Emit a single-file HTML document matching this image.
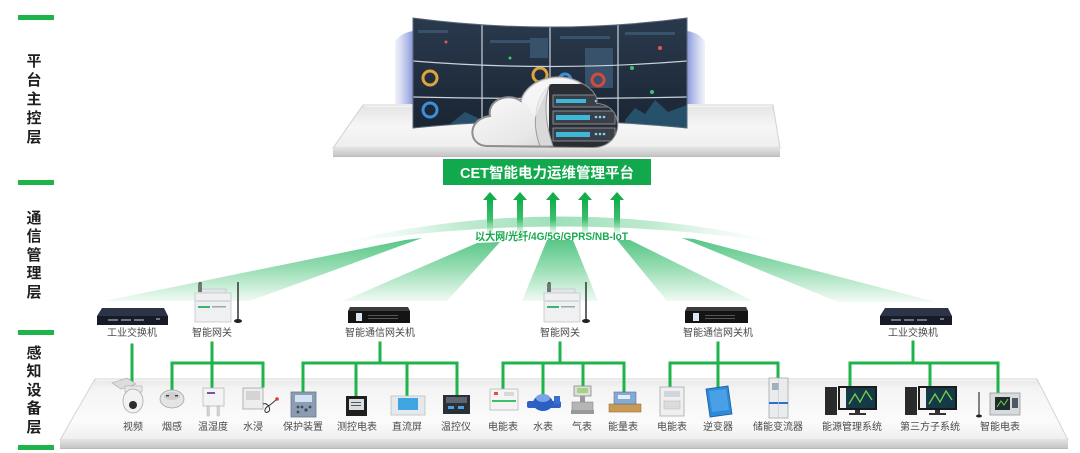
<!DOCTYPE html>
<html><head><meta charset="utf-8"><style>
html,body{margin:0;padding:0;background:#fff;}
svg{display:block;}
text{font-family:"Liberation Sans","Noto Sans CJK SC",sans-serif;}
</style></head><body>
<svg width="1080" height="453" viewBox="0 0 1080 453" xmlns="http://www.w3.org/2000/svg">
<defs>
  <linearGradient id="platTop" x1="0" y1="0" x2="0" y2="1">
    <stop offset="0" stop-color="#e4e4e4"/><stop offset="0.5" stop-color="#f6f6f6"/><stop offset="1" stop-color="#eeeeee"/>
  </linearGradient>
  <linearGradient id="platFront" x1="0" y1="0" x2="0" y2="1">
    <stop offset="0" stop-color="#e2e2e2"/><stop offset="1" stop-color="#c4c4c4"/>
  </linearGradient>
  <linearGradient id="botTop" x1="0" y1="0" x2="0" y2="1">
    <stop offset="0" stop-color="#e6e6e6"/><stop offset="0.15" stop-color="#f4f4f4"/><stop offset="0.7" stop-color="#fbfbfb"/><stop offset="1" stop-color="#efefef"/>
  </linearGradient>
  <linearGradient id="wall" x1="0" y1="0" x2="0" y2="1">
    <stop offset="0" stop-color="#2a3a4e"/><stop offset="1" stop-color="#1a2533"/>
  </linearGradient>
  <linearGradient id="sideL" x1="0" y1="0" x2="1" y2="0">
    <stop offset="0" stop-color="#dfe6f6" stop-opacity="0.6"/><stop offset="1" stop-color="#7384d4"/>
  </linearGradient>
  <linearGradient id="sideR" x1="1" y1="0" x2="0" y2="0">
    <stop offset="0" stop-color="#dfe6f6" stop-opacity="0.6"/><stop offset="1" stop-color="#7384d4"/>
  </linearGradient>
  <linearGradient id="cloudG" x1="0" y1="0" x2="1" y2="1">
    <stop offset="0" stop-color="#ffffff"/><stop offset="0.6" stop-color="#e8e8e8"/><stop offset="1" stop-color="#bdbdbd"/>
  </linearGradient>
  <linearGradient id="beam" gradientUnits="userSpaceOnUse" x1="0" y1="238" x2="0" y2="302">
    <stop offset="0" stop-color="#55c585"/><stop offset="0.45" stop-color="#95dcb1"/><stop offset="1" stop-color="#f2fbf5"/>
  </linearGradient>
  <linearGradient id="arcG" x1="0" y1="0" x2="1" y2="0">
    <stop offset="0" stop-color="#ffffff" stop-opacity="0"/>
    <stop offset="0.3" stop-color="#bfead0"/>
    <stop offset="0.5" stop-color="#9fe0b9"/>
    <stop offset="0.7" stop-color="#bfead0"/>
    <stop offset="1" stop-color="#ffffff" stop-opacity="0"/>
  </linearGradient>
  <linearGradient id="shaft" x1="0" y1="0" x2="0" y2="1">
    <stop offset="0" stop-color="#12ad4c"/><stop offset="0.6" stop-color="#3cc06f"/><stop offset="1" stop-color="#a6e3be" stop-opacity="0.3"/>
  </linearGradient>
  <clipPath id="cloudClip">
    <path d="M487,146 C468,146 466,119 490,116 C487,100 508,92 521,101 C527,79 560,70 582,84 C594,90 598,99 596,104 C616,104 623,126 612,139 C607,145 600,147 592,147 Z"/>
  </clipPath>
  <clipPath id="wallClip">
    <path d="M413,18 Q550,36 687,18 L687,128 Q550,114 413,128 Z"/>
  </clipPath>
</defs>

<!-- left layer labels -->
<g fill="#1fb34b">
  <rect x="18" y="15" width="36" height="5"/>
  <rect x="18" y="180" width="36" height="5"/>
  <rect x="18" y="330" width="36" height="5"/>
  <rect x="18" y="445" width="36" height="5"/>
</g>
<g font-size="15" font-weight="bold" fill="#1e1e1e" text-anchor="middle">
  <text x="34" y="66">平</text><text x="34" y="85">台</text><text x="34" y="104">主</text><text x="34" y="123">控</text><text x="34" y="142">层</text>
  <text x="34" y="223">通</text><text x="34" y="241">信</text><text x="34" y="260">管</text><text x="34" y="278">理</text><text x="34" y="297">层</text>
  <text x="34" y="358">感</text><text x="34" y="376">知</text><text x="34" y="395">设</text><text x="34" y="413">备</text><text x="34" y="432">层</text>
</g>

<!-- top platform -->
<polygon points="363,105 773,105 780,148 333,148" fill="url(#platTop)" stroke="#d2d2d2" stroke-width="1"/>
<line x1="364" y1="106" x2="772" y2="106" stroke="#ffffff" stroke-width="1"/>
<rect x="333" y="148" width="447" height="8" fill="url(#platFront)"/>
<line x1="333" y1="156.5" x2="780" y2="156.5" stroke="#bdbdbd" stroke-width="1"/>

<!-- side translucent panels -->
<path d="M395,42 Q400,33 413,31 L413,104 L395,104 Z" fill="url(#sideL)" opacity="0.85"/>
<path d="M705,42 Q700,33 687,31 L687,104 L705,104 Z" fill="url(#sideR)" opacity="0.85"/>

<!-- video wall -->
<g clip-path="url(#wallClip)">
  <rect x="413" y="15" width="274" height="115" fill="url(#wall)"/>
  <g fill="#3b5670" opacity="0.9">
    <rect x="418" y="30" width="30" height="3"/><rect x="490" y="40" width="50" height="3"/>
    <rect x="560" y="36" width="50" height="3"/><rect x="625" y="32" width="50" height="3"/>
    <rect x="530" y="38" width="18" height="20"/><rect x="585" y="48" width="28" height="40"/>
  </g>
  <g fill="none" stroke-width="3">
    <circle cx="430" cy="78" r="7" stroke="#e0a53a"/>
    <circle cx="430" cy="110" r="7" stroke="#3c8fd8"/>
    <circle cx="540" cy="75" r="7" stroke="#e0a53a"/>
    <circle cx="565" cy="80" r="6" stroke="#3c8fd8"/>
    <circle cx="598" cy="80" r="6" stroke="#d8493c"/>
  </g>
  <g fill="#3fc56f"><circle cx="652" cy="92" r="2"/><circle cx="632" cy="68" r="2"/><circle cx="510" cy="58" r="1.5"/></g>
  <g fill="#e05a4a"><circle cx="660" cy="48" r="2"/><circle cx="446" cy="42" r="1.5"/></g>
  <path d="M625,120 L635,108 L645,114 L655,100 L668,112 L687,105 L687,128 L625,128 Z" fill="#2f6d8c" opacity="0.6"/>
  <path d="M450,124 L465,112 L478,118 L482,128 Z" fill="#2f6d8c" opacity="0.6"/>
  <g stroke="#c9d1da" stroke-width="1.2" fill="none">
    <path d="M413,61 Q550,72 687,61"/>
    <path d="M413,97 Q550,100 687,97"/>
    <line x1="482" y1="15" x2="482" y2="130"/>
    <line x1="550" y1="15" x2="550" y2="130"/>
    <line x1="618" y1="15" x2="618" y2="130"/>
  </g>
</g>
<path d="M413,18 Q550,36 687,18 L687,128 Q550,114 413,128 Z" fill="none" stroke="#5a6878" stroke-width="1"/>

<!-- cloud -->
<path d="M487,146 C468,146 466,119 490,116 C487,100 508,92 521,101 C527,79 560,70 582,84 C594,90 598,99 596,104 C616,104 623,126 612,139 C607,145 600,147 592,147 Z" fill="url(#cloudG)" stroke="#8e8e8e" stroke-width="2"/>
<g clip-path="url(#cloudClip)">
  <rect x="549" y="84" width="72" height="66" fill="#2a2d33"/>
  <g>
    <rect x="553" y="95" width="62" height="12" fill="#3b4048" stroke="#9aa0a8" stroke-width="0.8"/>
    <rect x="556" y="99" width="30" height="4" fill="#3fb7d8"/>
    <rect x="553" y="111" width="62" height="13" fill="#3b4048" stroke="#9aa0a8" stroke-width="0.8"/>
    <rect x="556" y="115" width="34" height="5" fill="#3fb7d8"/>
    <rect x="553" y="128" width="62" height="13" fill="#3b4048" stroke="#9aa0a8" stroke-width="0.8"/>
    <rect x="556" y="132" width="34" height="5" fill="#3fb7d8"/>
    <g fill="#7fd3ee"><circle cx="596" cy="101" r="1.3"/><circle cx="600" cy="101" r="1.3"/><circle cx="604" cy="101" r="1.3"/>
      <circle cx="596" cy="117" r="1.3"/><circle cx="600" cy="117" r="1.3"/><circle cx="604" cy="117" r="1.3"/>
      <circle cx="596" cy="134" r="1.3"/><circle cx="600" cy="134" r="1.3"/><circle cx="604" cy="134" r="1.3"/></g>
  </g>
</g>
<path d="M549,86 C545,100 544,120 553,146 L540,146 C532,125 534,100 549,86 Z" fill="#d9d9d9" stroke="#9b9b9b" stroke-width="1"/>
<path d="M521,101 C527,79 560,70 582,84 C565,80 548,84 549,86 C545,95 540,105 535,118 C532,110 528,104 521,101 Z" fill="#f7f7f7" opacity="0.7"/>

<!-- title -->
<rect x="443" y="159" width="208" height="26" fill="#12a84c"/>
<text x="547" y="178" font-size="14.5" font-weight="bold" fill="#ffffff" text-anchor="middle">CET智能电力运维管理平台</text>

<!-- arc band -->
<path d="M318,248 Q555,186 797,246 Q555,206 318,248 Z" fill="url(#arcG)"/>

<!-- beams -->
<g fill="url(#beam)">
  <polygon points="405,240 422,238 250,301 104,301"/>
  <polygon points="477,243 500,242 447,301 343,301"/>
  <polygon points="547,240 573,240 598,301 522,301"/>
  <polygon points="617,240 630,240 753,301 667,301"/>
  <polygon points="682,238 694,239 936,302 838,302"/>
</g>

<!-- arrows -->
<g>
  <g fill="#12ad4c">
    <polygon points="483,200 490,192 497,200"/>
    <polygon points="513,200 520,192 527,200"/>
    <polygon points="546,200 553,192 560,200"/>
    <polygon points="578,200 585,192 592,200"/>
    <polygon points="610,200 617,192 624,200"/>
  </g>
  <g fill="url(#shaft)">
    <rect x="487" y="199" width="6" height="34"/>
    <rect x="517" y="199" width="6" height="34"/>
    <rect x="550" y="199" width="6" height="34"/>
    <rect x="582" y="199" width="6" height="34"/>
    <rect x="614" y="199" width="6" height="34"/>
  </g>
</g>
<text x="475" y="240" font-size="11" font-weight="bold" fill="#18a94f" textLength="153" lengthAdjust="spacingAndGlyphs">以大网/光纤/4G/5G/GPRS/NB-IoT</text>

<!-- bottom platform -->
<polygon points="95,379 1037,379 1068,440 60,440" fill="url(#botTop)" stroke="#d4d4d4" stroke-width="1"/>
<line x1="96" y1="380" x2="1036" y2="380" stroke="#ffffff" stroke-width="1"/>
<rect x="60" y="440" width="1008" height="8" fill="url(#platFront)"/>
<line x1="60" y1="448.5" x2="1068" y2="448.5" stroke="#b8b8b8" stroke-width="1"/>

<!-- tree lines -->
<g stroke="#1fb34b" stroke-width="3" fill="none" stroke-linecap="square">
  <line x1="132" y1="345" x2="132" y2="384"/>
  <line x1="212" y1="343" x2="212" y2="389"/>
  <polyline points="172,392 172,363 263,363 263,386"/>
  <line x1="380" y1="343" x2="380" y2="363"/>
  <polyline points="303,392 303,363 457,363 457,394"/>
  <line x1="356" y1="363" x2="356" y2="397"/>
  <line x1="407" y1="363" x2="407" y2="396"/>
  <line x1="560" y1="343" x2="560" y2="363"/>
  <polyline points="503,390 503,363 624,363 624,392"/>
  <line x1="543" y1="363" x2="543" y2="394"/>
  <line x1="583" y1="363" x2="583" y2="387"/>
  <line x1="718" y1="343" x2="718" y2="388"/>
  <polyline points="670,388 670,363 778,363 778,380"/>
  <line x1="913" y1="342" x2="913" y2="363"/>
  <polyline points="850,386 850,363 998,363 998,392"/>
  <line x1="930" y1="363" x2="930" y2="386"/>
</g>

<!-- top-row devices -->
<g>
  <path d="M102,308 H164 L168,316 H97 Z" fill="#2c3548"/>
  <rect x="97" y="316" width="71" height="9" fill="#161b26"/>
  <g fill="#6d7688"><rect x="108" y="319" width="10" height="2"/><rect x="121" y="319" width="10" height="2"/><rect x="134" y="319" width="10" height="2"/><rect x="156" y="318" width="4" height="2"/></g>
</g>
<g>
  <path d="M885,308 H948 L952,316 H880 Z" fill="#2c3548"/>
  <rect x="880" y="316" width="72" height="9" fill="#161b26"/>
  <g fill="#6d7688"><rect x="891" y="319" width="10" height="2"/><rect x="904" y="319" width="10" height="2"/><rect x="917" y="319" width="10" height="2"/><rect x="940" y="318" width="4" height="2"/></g>
</g>
<g>
  <rect x="200" y="289" width="26" height="5" fill="#e3e6e9" stroke="#c2c6ca" stroke-width="0.8"/>
  <rect x="195" y="293" width="36" height="29" fill="#eef0f2" stroke="#c2c6ca" stroke-width="0.8"/>
  <rect x="195" y="300" width="36" height="2" fill="#d6dadd"/>
  <rect x="198" y="306" width="12" height="2" fill="#3db36b"/>
  <rect x="212" y="306" width="14" height="1.5" fill="#9aa"/>
  <path d="M199,292 V285 Q199,282 201,283 V292" fill="none" stroke="#555" stroke-width="1.5"/>
  <line x1="238" y1="282" x2="238" y2="320" stroke="#333" stroke-width="1.5"/>
  <ellipse cx="238" cy="321" rx="4" ry="2" fill="#222"/>
</g>
<g>
  <rect x="549" y="289" width="26" height="5" fill="#e3e6e9" stroke="#c2c6ca" stroke-width="0.8"/>
  <rect x="544" y="293" width="36" height="29" fill="#eef0f2" stroke="#c2c6ca" stroke-width="0.8"/>
  <rect x="544" y="300" width="36" height="2" fill="#d6dadd"/>
  <rect x="547" y="306" width="12" height="2" fill="#3db36b"/>
  <rect x="561" y="306" width="14" height="1.5" fill="#9aa"/>
  <path d="M548,292 V285 Q548,282 550,283 V292" fill="none" stroke="#555" stroke-width="1.5"/>
  <line x1="586" y1="282" x2="586" y2="320" stroke="#333" stroke-width="1.5"/>
  <ellipse cx="586" cy="321" rx="4" ry="2" fill="#222"/>
</g>
<g>
  <path d="M350,307 H408 L410,311 H348 Z" fill="#3c3c3c"/>
  <rect x="348" y="311" width="62" height="12" fill="#141414"/>
  <rect x="356" y="313" width="6" height="8" fill="#dde6ef"/>
  <g fill="#555"><rect x="368" y="315" width="30" height="1"/><rect x="368" y="318" width="30" height="1"/></g>
</g>
<g>
  <path d="M687,307 H746 L748,311 H685 Z" fill="#3c3c3c"/>
  <rect x="685" y="311" width="63" height="12" fill="#141414"/>
  <rect x="693" y="313" width="6" height="8" fill="#dde6ef"/>
  <g fill="#555"><rect x="705" y="315" width="30" height="1"/><rect x="705" y="318" width="30" height="1"/></g>
</g>

<g font-size="10" fill="#4a4a4a" text-anchor="middle">
  <text x="132" y="336">工业交换机</text>
  <text x="212" y="336">智能网关</text>
  <text x="380" y="336">智能通信网关机</text>
  <text x="560" y="336">智能网关</text>
  <text x="718" y="336">智能通信网关机</text>
  <text x="913" y="336">工业交换机</text>
</g>

<!-- bottom devices -->
<g>
  <polygon points="112,383 127,378 136,384 121,389" fill="#dcdcdc" stroke="#aaa" stroke-width="0.6"/>
  <rect x="125" y="386" width="17" height="6" fill="#e8e8e8" stroke="#aaa" stroke-width="0.6"/>
  <ellipse cx="133" cy="401" rx="10" ry="12" fill="#f2f2f2" stroke="#a9a9a9" stroke-width="0.8"/>
  <circle cx="133" cy="405" r="4" fill="#2d2d2d"/>
</g>
<g>
  <ellipse cx="172" cy="399" rx="12" ry="9" fill="#e4e4e4" stroke="#a5a5a5" stroke-width="0.8"/>
  <ellipse cx="172" cy="396" rx="8" ry="4" fill="#cfcfcf"/>
  <g fill="#444"><rect x="166" y="395" width="3" height="1.5"/><rect x="175" y="395" width="3" height="1.5"/></g>
</g>
<g>
  <rect x="203" y="388" width="21" height="18" fill="#f3f3f3" stroke="#b9b9b9" stroke-width="0.8"/>
  <rect x="207" y="392" width="8" height="2" fill="#6e5aa0"/>
  <rect x="207" y="406" width="2.5" height="10" fill="#d5d5d5" stroke="#aaa" stroke-width="0.4"/>
  <rect x="217" y="406" width="2.5" height="10" fill="#d5d5d5" stroke="#aaa" stroke-width="0.4"/>
</g>
<g>
  <rect x="243" y="388" width="20" height="21" fill="#ededed" stroke="#a5a5a5" stroke-width="0.8"/>
  <rect x="246" y="391" width="14" height="9" fill="#d4d4d4"/>
  <path d="M263,404 C268,402 272,410 268,412 C264,414 263,408 270,405 L276,400" fill="none" stroke="#333" stroke-width="1"/>
  <circle cx="277" cy="399" r="1.8" fill="#e03a2a"/>
</g>
<g>
  <rect x="291" y="392" width="25" height="25" fill="#8c9db2" stroke="#6a7a8e" stroke-width="0.8"/>
  <rect x="295" y="395" width="17" height="7" fill="#cfe3f3"/>
  <g fill="#3e4c5c"><circle cx="298" cy="407" r="1.4"/><circle cx="302" cy="407" r="1.4"/><circle cx="306" cy="410" r="1.6"/><circle cx="310" cy="407" r="1.4"/><circle cx="298" cy="412" r="1.4"/></g>
</g>
<g>
  <rect x="346" y="396" width="21" height="20" fill="#1f1f1f"/>
  <rect x="349" y="399" width="15" height="11" fill="#d9dee3"/>
  <rect x="351" y="402" width="10" height="1" fill="#555"/><rect x="351" y="405" width="10" height="1" fill="#555"/>
</g>
<g>
  <rect x="391" y="396" width="34" height="19" fill="#e6e9ec" stroke="#b9bec4" stroke-width="0.8"/>
  <rect x="398" y="398" width="20" height="12" fill="#3ea4e2"/>
</g>
<g>
  <rect x="443" y="395" width="27" height="19" fill="#2b2f36"/>
  <rect x="446" y="397" width="21" height="6" fill="#5c6672"/>
  <rect x="448" y="406" width="6" height="3" fill="#4aa3e0"/><rect x="458" y="406" width="6" height="3" fill="#4aa3e0"/>
</g>
<g>
  <rect x="490" y="389" width="28" height="21" fill="#f4f4f4" stroke="#b9b9b9" stroke-width="0.8"/>
  <rect x="492" y="400" width="24" height="2" fill="#3fbf6b"/>
  <rect x="494" y="392" width="4" height="3" fill="#e05040"/>
  <rect x="504" y="392" width="10" height="4" fill="#d8d8d8"/>
</g>
<g>
  <rect x="527" y="401" width="34" height="7" rx="2" fill="#2f62c4"/>
  <ellipse cx="543" cy="403" rx="10" ry="8" fill="#2c5fc2"/>
  <ellipse cx="543" cy="398" rx="7" ry="4" fill="#7aa3e8"/>
  <rect x="554" y="396" width="6" height="8" fill="#3a6fd0"/>
</g>
<g>
  <rect x="574" y="386" width="17" height="10" fill="#dedede" stroke="#888" stroke-width="0.8"/>
  <rect x="577" y="388" width="11" height="5" fill="#a3d482"/>
  <rect x="580" y="396" width="5" height="6" fill="#999"/>
  <rect x="572" y="402" width="21" height="9" fill="#b5b5b5" stroke="#888" stroke-width="0.6"/>
  <rect x="571" y="410" width="23" height="4" fill="#999"/>
</g>
<g>
  <rect x="609" y="404" width="32" height="8" fill="#c89a55" stroke="#9a723a" stroke-width="0.6"/>
  <rect x="614" y="392" width="22" height="12" fill="#86aad8" stroke="#5a7090" stroke-width="0.6"/>
  <rect x="618" y="395" width="12" height="4" fill="#e6eef8"/>
</g>
<g>
  <rect x="660" y="387" width="24" height="29" fill="#efefef" stroke="#a9a9a9" stroke-width="0.8"/>
  <rect x="664" y="391" width="16" height="6" fill="#cfd5da"/>
  <rect x="664" y="401" width="16" height="8" fill="#dcdcdc" stroke="#aaa" stroke-width="0.4"/>
</g>
<g>
  <polygon points="706,389 728,386 732,414 710,417" fill="#2f89d9" stroke="#1b5f9c" stroke-width="0.8"/>
  <polygon points="709,391 726,389 729,410 712,412" fill="#4aa0e6"/>
</g>
<g>
  <rect x="769" y="378" width="19" height="40" fill="#e9ebed" stroke="#a4a9ae" stroke-width="0.8"/>
  <rect x="772" y="383" width="7" height="7" fill="#9fb0bf"/>
  <rect x="769" y="402" width="19" height="2" fill="#2a72c9"/>
  <line x1="778.5" y1="378" x2="778.5" y2="418" stroke="#c5c9cd" stroke-width="0.6"/>
</g>
<g>
  <rect x="825" y="387" width="12" height="28" fill="#2a2a2a"/>
  <rect x="838" y="386" width="39" height="24" fill="#1a1a1a"/>
  <rect x="840" y="388" width="35" height="20" fill="#143a48"/>
  <rect x="840" y="388" width="6" height="20" fill="#eeeeee"/>
  <path d="M849,404 L855,394 L860,402 L866,391 L872,400" fill="none" stroke="#7ad04a" stroke-width="1.3"/>
  <rect x="855" y="410" width="5" height="4" fill="#333"/>
  <rect x="849" y="413" width="17" height="2" fill="#333"/>
</g>
<g>
  <rect x="905" y="387" width="12" height="28" fill="#2a2a2a"/>
  <rect x="918" y="386" width="39" height="24" fill="#1a1a1a"/>
  <rect x="920" y="388" width="35" height="20" fill="#143a48"/>
  <rect x="920" y="388" width="6" height="20" fill="#eeeeee"/>
  <path d="M929,404 L935,394 L940,402 L946,391 L952,400" fill="none" stroke="#7ad04a" stroke-width="1.3"/>
  <rect x="935" y="410" width="5" height="4" fill="#333"/>
  <rect x="929" y="413" width="17" height="2" fill="#333"/>
</g>
<g>
  <line x1="979" y1="392" x2="979" y2="415" stroke="#333" stroke-width="1.2"/>
  <ellipse cx="979" cy="416" rx="3" ry="1.5" fill="#222"/>
  <rect x="990" y="393" width="30" height="22" fill="#d7dbde" stroke="#999" stroke-width="0.8"/>
  <rect x="995" y="397" width="15" height="13" fill="#1e2c2a"/>
  <path d="M997,407 L1001,401 L1004,405 L1008,399" fill="none" stroke="#6ccf5a" stroke-width="1"/>
  <rect x="1012" y="398" width="6" height="10" fill="#4d5a66"/>
</g>

<g font-size="10" fill="#4a4a4a" text-anchor="middle">
  <text x="133" y="430">视频</text>
  <text x="172" y="430">烟感</text>
  <text x="213" y="430">温湿度</text>
  <text x="253" y="430">水浸</text>
  <text x="303" y="430">保护装置</text>
  <text x="357" y="430">测控电表</text>
  <text x="407" y="430">直流屏</text>
  <text x="456" y="430">温控仪</text>
  <text x="503" y="430">电能表</text>
  <text x="543" y="430">水表</text>
  <text x="582" y="430">气表</text>
  <text x="623" y="430">能量表</text>
  <text x="672" y="430">电能表</text>
  <text x="718" y="430">逆变器</text>
  <text x="778" y="430">储能变流器</text>
  <text x="852" y="430">能源管理系统</text>
  <text x="930" y="430">第三方子系统</text>
  <text x="1000" y="430">智能电表</text>
</g>
</svg>
</body></html>
